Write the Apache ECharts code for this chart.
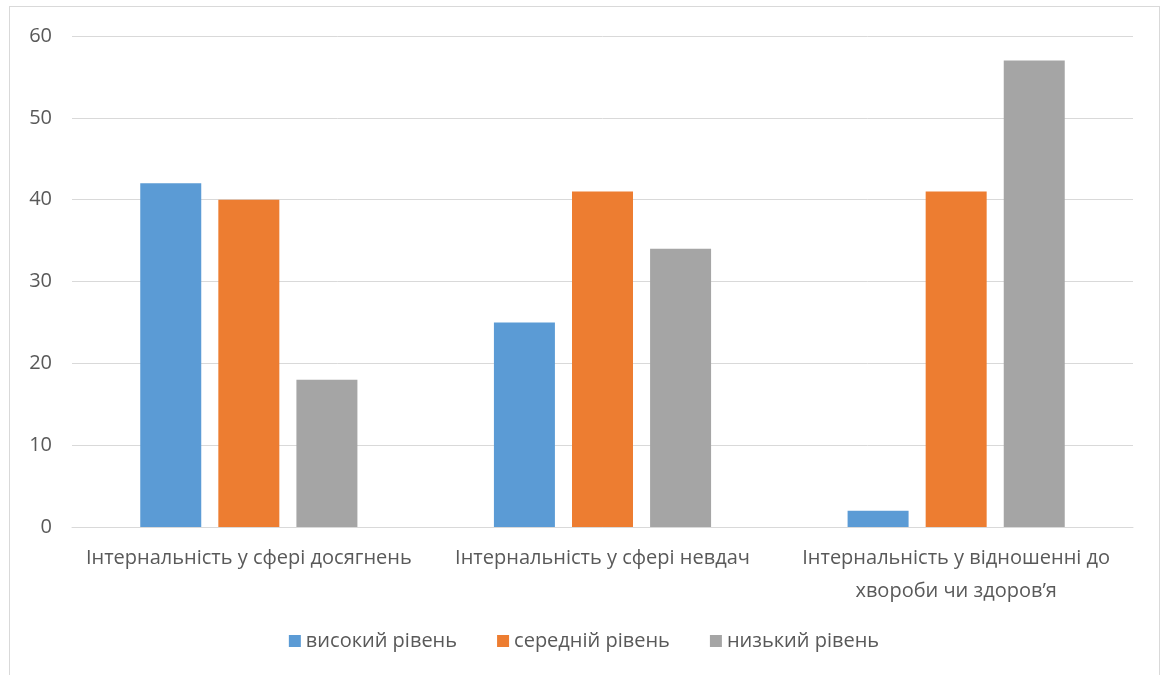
<!DOCTYPE html>
<html>
<head>
<meta charset="utf-8">
<script src="https://cdn.jsdelivr.net/npm/echarts@6/dist/echarts.min.js"></script>
<style>
  html, body { margin: 0; padding: 0; background: #fff; }
  #frame { position: absolute; left: 9px; top: 6px; width: 1151px; height: 700px; border: 1px solid #d9d9d9; box-sizing: border-box; }
  #chart { position: absolute; left: 0; top: 0; width: 1168px; height: 675px; }
</style>
</head>
<body>
<div id="frame"></div>
<div id="chart"></div>
<script>
const categories = [
    'Інтернальність у сфері досягнень',
    'Інтернальність у сфері невдач',
    'Інтернальність у відношенні до хвороби чи здоров’я'
];
const seriesNames = ['високий рівень', 'середній рівень', 'низький рівень'];
const highValues = [42, 25, 2];
const midValues = [40, 41, 41];
const lowValues = [18, 34, 57];
const colors = ['#5b9bd5', '#ed7d31', '#a5a5a5'];

// wrap long category names by word count of characters, like Excel does
function wrapLabel(text, maxChars) {
    const words = text.split(' ');
    const lines = [];
    let line = '';
    words.forEach(w => {
        const next = line ? line + ' ' + w : w;
        if (next.length > maxChars && line) {
            lines.push(line);
            line = w;
        } else {
            line = next;
        }
    });
    lines.push(line);
    return lines.join('\n');
}

const chart = echarts.init(document.getElementById('chart'));
const font = 'Open Sans';

chart.setOption({
    animation: false,
    textStyle: { fontFamily: font },
    grid: { left: 72, right: 35, top: 36, bottom: 148 },
    legend: {
        bottom: 19,
        left: 'center',
        itemWidth: 12,
        itemHeight: 12,
        itemGap: 40,
        icon: 'rect',
        textStyle: { color: '#595959', fontSize: 20, fontFamily: font }
    },
    xAxis: {
        type: 'category',
        data: categories,
        axisLine: { lineStyle: { color: '#d9d9d9' } },
        axisTick: { show: false },
        axisLabel: {
            color: '#595959',
            fontSize: 20,
            fontFamily: font,
            lineHeight: 33,
            margin: 15,
            interval: 0,
            overflow: 'none',
            formatter: v => wrapLabel(v, 32)
        }
    },
    yAxis: {
        type: 'value',
        min: 0,
        max: 60,
        interval: 10,
        axisLine: { show: false },
        axisTick: { show: false },
        splitLine: { lineStyle: { color: '#d9d9d9' } },
        axisLabel: { color: '#595959', fontSize: 20, fontFamily: font, margin: 20 }
    },
    series: [
        { name: seriesNames[0], type: 'bar', data: highValues, itemStyle: { color: colors[0] }, barWidth: 61, barGap: '28%' },
        { name: seriesNames[1], type: 'bar', data: midValues, itemStyle: { color: colors[1] }, barWidth: 61, barGap: '28%' },
        { name: seriesNames[2], type: 'bar', data: lowValues, itemStyle: { color: colors[2] }, barWidth: 61, barGap: '28%' }
    ]
});
</script>
</body>
</html>
